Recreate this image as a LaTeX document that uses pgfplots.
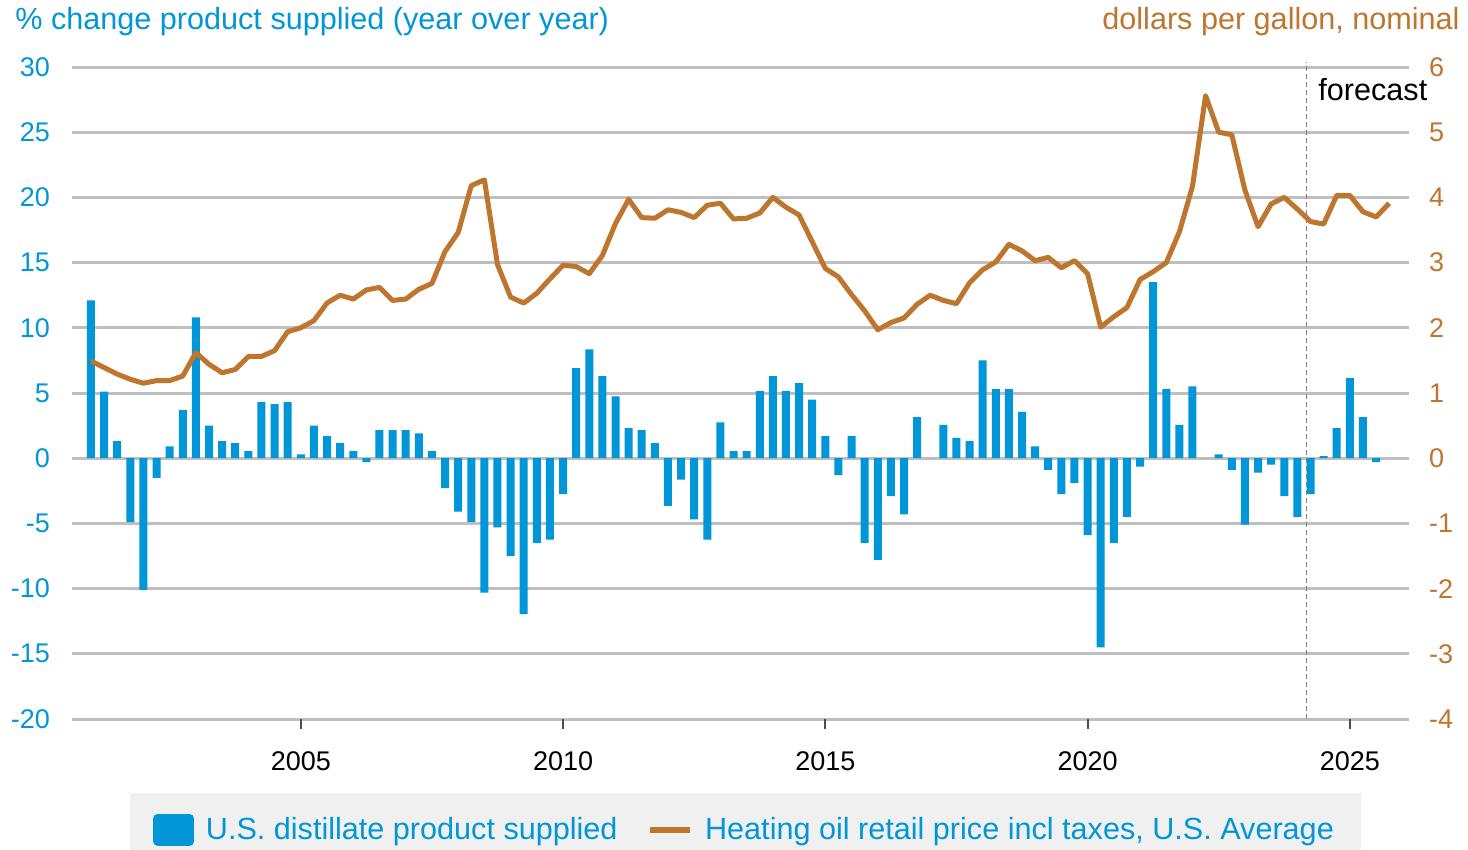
\documentclass[border=0pt]{standalone}
\usepackage{fontspec}
\setmainfont{Liberation Sans}
\usepackage{pgfplots}
\pgfplotsset{compat=1.18}

\definecolor{barblue}{RGB}{0,150,215}
\definecolor{oilbrown}{RGB}{190,117,45}
\definecolor{gridgray}{RGB}{191,191,191}
\definecolor{legendgray}{RGB}{240,240,240}

\pgfplotstableread{
x        pct
2001.00  12.1
2001.25  5.1
2001.50  1.3
2001.75  -4.9
2002.00  -10.1
2002.25  -1.5
2002.50  0.9
2002.75  3.7
2003.00  10.8
2003.25  2.5
2003.50  1.3
2003.75  1.15
2004.00  0.55
2004.25  4.3
2004.50  4.15
2004.75  4.3
2005.00  0.3
2005.25  2.5
2005.50  1.7
2005.75  1.15
2006.00  0.55
2006.25  -0.3
2006.50  2.15
2006.75  2.15
2007.00  2.15
2007.25  1.9
2007.50  0.55
2007.75  -2.3
2008.00  -4.1
2008.25  -4.9
2008.50  -10.3
2008.75  -5.3
2009.00  -7.5
2009.25  -11.95
2009.50  -6.5
2009.75  -6.25
2010.00  -2.75
2010.25  6.9
2010.50  8.35
2010.75  6.3
2011.00  4.75
2011.25  2.3
2011.50  2.15
2011.75  1.15
2012.00  -3.65
2012.25  -1.65
2012.50  -4.7
2012.75  -6.25
2013.00  2.75
2013.25  0.55
2013.50  0.55
2013.75  5.15
2014.00  6.3
2014.25  5.15
2014.50  5.75
2014.75  4.5
2015.00  1.7
2015.25  -1.3
2015.50  1.7
2015.75  -6.5
2016.00  -7.8
2016.25  -2.9
2016.50  -4.3
2016.75  3.15
2017.00  0
2017.25  2.55
2017.50  1.55
2017.75  1.3
2018.00  7.5
2018.25  5.3
2018.50  5.3
2018.75  3.55
2019.00  0.9
2019.25  -0.9
2019.50  -2.75
2019.75  -1.9
2020.00  -5.9
2020.25  -14.5
2020.50  -6.5
2020.75  -4.5
2021.00  -0.65
2021.25  13.5
2021.50  5.3
2021.75  2.55
2022.00  5.5
2022.25  0
2022.50  0.3
2022.75  -0.9
2023.00  -5.1
2023.25  -1.1
2023.50  -0.5
2023.75  -2.9
2024.00  -4.5
2024.25  -2.75
2024.50  0.15
2024.75  2.3
2025.00  6.15
2025.25  3.15
2025.50  -0.3
}\supplied

\pgfplotstableread{
x        price
2001.00  1.49
2001.25  1.39
2001.50  1.29
2001.75  1.21
2002.00  1.15
2002.25  1.19
2002.50  1.19
2002.75  1.26
2003.00  1.62
2003.25  1.44
2003.50  1.31
2003.75  1.36
2004.00  1.56
2004.25  1.56
2004.50  1.65
2004.75  1.94
2005.00  2.00
2005.25  2.11
2005.50  2.38
2005.75  2.50
2006.00  2.44
2006.25  2.58
2006.50  2.62
2006.75  2.42
2007.00  2.44
2007.25  2.59
2007.50  2.68
2007.75  3.17
2008.00  3.46
2008.25  4.18
2008.50  4.27
2008.75  2.97
2009.00  2.47
2009.25  2.38
2009.50  2.53
2009.75  2.75
2010.00  2.96
2010.25  2.94
2010.50  2.83
2010.75  3.11
2011.00  3.60
2011.25  3.97
2011.50  3.69
2011.75  3.68
2012.00  3.81
2012.25  3.77
2012.50  3.69
2012.75  3.88
2013.00  3.91
2013.25  3.67
2013.50  3.68
2013.75  3.76
2014.00  4.00
2014.25  3.85
2014.50  3.73
2014.75  3.32
2015.00  2.91
2015.25  2.78
2015.50  2.51
2015.75  2.26
2016.00  1.97
2016.25  2.08
2016.50  2.15
2016.75  2.36
2017.00  2.50
2017.25  2.42
2017.50  2.37
2017.75  2.69
2018.00  2.89
2018.25  3.01
2018.50  3.28
2018.75  3.18
2019.00  3.03
2019.25  3.08
2019.50  2.92
2019.75  3.03
2020.00  2.83
2020.25  2.01
2020.50  2.17
2020.75  2.31
2021.00  2.74
2021.25  2.86
2021.50  3.00
2021.75  3.47
2022.00  4.17
2022.25  5.56
2022.50  5.00
2022.75  4.96
2023.00  4.11
2023.25  3.55
2023.50  3.90
2023.75  4.00
2024.00  3.82
2024.25  3.63
2024.50  3.59
2024.75  4.03
2025.00  4.03
2025.25  3.78
2025.50  3.70
2025.75  3.91
}\price

\pgfplotsset{
  common/.style={
    scale only axis,
    width=668.5bp, height=326bp,
    xmin=2000.638, xmax=2026.128,
    axis line style={draw=none},
    clip=false,
    /pgf/number format/assume math mode=true,
    ticklabel style={font=\fontsize{13.5bp}{16bp}\selectfont},
  },
}

\begin{document}
\begin{tikzpicture}
\path[use as bounding box] (-36bp,-65.5bp) rectangle (698bp,359.5bp);

% bars, left axis
\begin{axis}[common,
    ymin=-20, ymax=30,
    ytick={-20,-15,...,30},
    ymajorgrids,
    grid style={gridgray, line width=1.5bp},
    ytick style={draw=none},
    yticklabel style={text=barblue, xshift=-2.5bp},
    xtick={2005,2010,2015,2020,2025},
    xticklabels={2005,2010,2015,2020,2025},
    xtick pos=lower,
    tick align=outside,
    major tick length=5bp,
    xtick style={draw=black!70, line width=1bp},
    xticklabel style={text=black, yshift=-8bp},
  ]
  \addplot[ybar, bar width=4bp, fill=barblue, draw=none] table[x=x, y=pct] {\supplied};
  \draw[gray, dash pattern=on 2.5bp off 1.5bp, line width=0.6bp]
    (axis cs:2024.17,-20) -- (axis cs:2024.17,30.4);
\end{axis}

% line, right axis
\begin{axis}[common,
    ymin=-4, ymax=6,
    ytick={-4,...,6},
    axis y line*=right,
    xtick=\empty,
    ytick style={draw=none},
    yticklabel style={text=oilbrown, xshift=6.5bp},
    legend columns=2,
    legend cell align=left,
    legend style={
      at={(0.5,-0.1135)}, anchor=north, xshift=2.5bp,
      fill=legendgray, draw=none,
      font=\fontsize{15.3bp}{18bp}\selectfont, text=barblue,
      inner xsep=11.5bp, inner ysep=10bp,
      /tikz/every odd column/.append style={column sep=4bp},
      /tikz/every even column/.append style={column sep=13bp},
    },
  ]
  \addlegendimage{legend image code/.code={
      \fill[barblue, rounded corners=2bp] (0bp,-7.75bp) rectangle (20bp,7.75bp);}}
  \addlegendentry{U.S. distillate product supplied}
  \addplot[oilbrown, line width=2.5bp, line join=round,
    legend image code/.code={
      \draw[oilbrown, line width=2.8bp] (0bp,0bp) -- (20bp,0bp);}]
    table[x=x, y=price] {\price};
  \addlegendentry{Heating oil retail price incl taxes, U.S. Average}
\end{axis}

\node[anchor=base west, inner sep=0pt, text=barblue, font=\fontsize{15.3bp}{18bp}\selectfont]
  at (-28.5bp,344.5bp) {\% change product supplied (year over year)};
\node[anchor=base east, inner sep=0pt, text=oilbrown, font=\fontsize{15.3bp}{18bp}\selectfont]
  at (694bp,344.5bp) {dollars per gallon, nominal};
\node[anchor=base west, inner sep=0pt, font=\fontsize{15.3bp}{18bp}\selectfont]
  at (623bp,309bp) {forecast};
\end{tikzpicture}
\end{document}
